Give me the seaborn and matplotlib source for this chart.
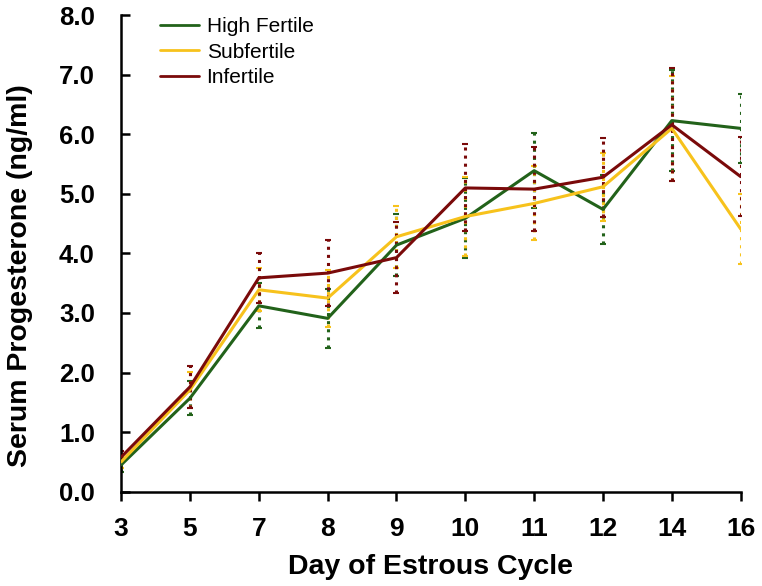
import matplotlib
matplotlib.use('Agg')
import matplotlib.pyplot as plt
from matplotlib import ticker as mtick
import seaborn as sns
import pandas as pd

days = ['3', '5', '7', '8', '9', '10', '11', '12', '14', '16']
groups = ['High Fertile', 'Subfertile', 'Infertile']

high_fertile = [0.45, 1.57, 3.12, 2.91, 4.14, 4.59, 5.39, 4.74, 6.23, 6.10]
subfertile = [0.50, 1.71, 3.39, 3.25, 4.28, 4.62, 4.84, 5.12, 6.10, 4.41]
infertile = [0.58, 1.76, 3.59, 3.67, 3.93, 5.10, 5.08, 5.28, 6.16, 5.29]

high_fertile_err = [0.12, 0.28, 0.38, 0.50, 0.52, 0.67, 0.63, 0.58, 0.85, 0.58]
subfertile_err = [0.10, 0.30, 0.36, 0.48, 0.52, 0.66, 0.62, 0.57, 0.88, 0.58]
infertile_err = [0.10, 0.35, 0.42, 0.56, 0.60, 0.73, 0.71, 0.66, 0.95, 0.66]

colors = ['#22621a', '#f7c21c', '#7a0a0a']

sns.set_style('ticks')
plt.rcParams['font.family'] = ['Liberation Sans', 'DejaVu Sans']
plt.rcParams['text.color'] = 'black'
plt.rcParams['axes.labelcolor'] = 'black'
plt.rcParams['xtick.color'] = 'black'
plt.rcParams['ytick.color'] = 'black'

df = pd.DataFrame({
    'Day': days * 3,
    'Progesterone': high_fertile + subfertile + infertile,
    'Group': [g for g in groups for _ in days],
})

fig = plt.figure(figsize=(7.62, 5.86), dpi=100)
ax = fig.add_axes([0.159, 0.161, 0.813, 0.813])

#error bars first so the means sit on top
errs = [high_fertile_err, subfertile_err, infertile_err]
means = [high_fertile, subfertile, infertile]
for m, e, c in zip(means, errs, colors):
    eb = ax.errorbar(days, m, yerr=e, fmt='none', ecolor=c, elinewidth=2.2,
                     capsize=2.5, capthick=1.5, zorder=2)
    eb[-1][0].set_linestyle(':')

sns.lineplot(data=df, x='Day', y='Progesterone', hue='Group', sort=False,
             palette=colors, linewidth=2.2, ax=ax, zorder=3)

ax.set_xlim(0, len(days) - 1)
ax.set_ylim(0, 8)
ax.yaxis.set_major_locator(mtick.MultipleLocator(1))
ax.yaxis.set_major_formatter(mtick.FormatStrFormatter('%.1f'))

for lab in ax.get_xticklabels():
    lab.set_fontsize(19)
    lab.set_fontweight('bold')
for lab in ax.get_yticklabels():
    lab.set_fontsize(18.5)
    lab.set_fontweight('bold')

ax.tick_params(axis='x', direction='out', length=6.5, width=1.8, pad=12)
ax.tick_params(axis='y', direction='in', length=6.5, width=1.8, pad=19)
ax.set_xlabel('Day of Estrous Cycle', fontsize=20.5, fontweight='bold',
              labelpad=9)
ax.set_ylabel('Serum Progesterone (ng/ml)', fontsize=20.5, fontweight='bold')
ax.yaxis.set_label_coords(-0.142, 0.454)

sns.despine(ax=ax)
for side in ['left', 'bottom']:
    ax.spines[side].set_linewidth(1.8)
    ax.spines[side].set_color('black')

leg = ax.legend(loc='upper left', bbox_to_anchor=(0.032, 1.035),
                frameon=False, fontsize=15, handlelength=1.9,
                handletextpad=0.35, labelspacing=0.3)
for h in leg.get_lines():
    h.set_linewidth(2)

fig.savefig('out.png', dpi=100)
